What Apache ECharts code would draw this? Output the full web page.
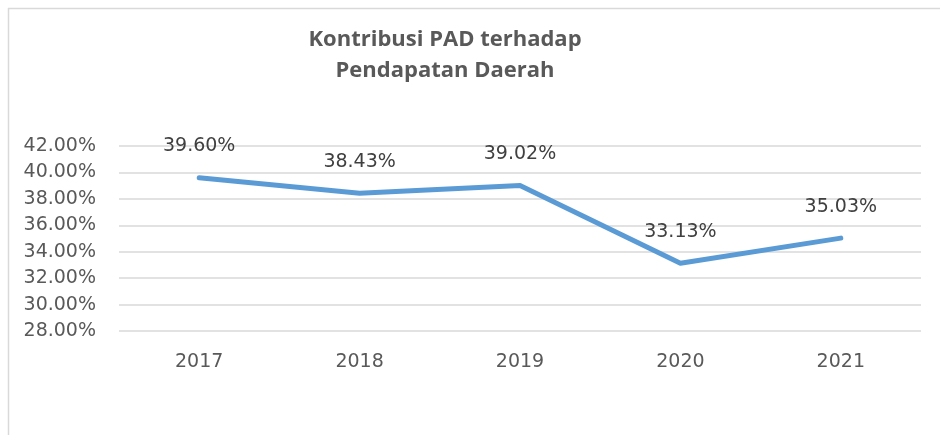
<!DOCTYPE html>
<html>
<head>
<meta charset="utf-8">
<script src="https://cdn.jsdelivr.net/npm/echarts@6/dist/echarts.min.js"></script>
<style>
html,body{margin:0;padding:0;background:#fff;overflow:hidden;}
#chart{width:940px;height:435px;}
</style>
</head>
<body>
<div id="chart"></div>
<script>
var titleLines = ['Kontribusi PAD terhadap', 'Pendapatan Daerah'];
var categories = ['2017', '2018', '2019', '2020', '2021'];
var values = [39.60, 38.43, 39.02, 33.13, 35.03];
var yMin = 28, yMax = 42, yStep = 2;

var chart = echarts.init(document.getElementById('chart'), null, {renderer: 'canvas'});
var font = 'DejaVu Sans';
chart.setOption({
  animation: false,
  backgroundColor: '#ffffff',
  title: {
    text: titleLines.join('\n'),
    left: 440,
    top: 19,
    textAlign: 'center',
    textStyle: {fontFamily: 'Open Sans', fontWeight: 'bold', fontSize: 22, color: '#595959', lineHeight: 31}
  },
  graphic: [{
    type: 'polyline',
    shape: {points: [[8.5, 440], [8.5, 8.5], [945, 8.5]]},
    style: {fill: 'none', stroke: '#d9d9d9', lineWidth: 1.5},
    silent: true
  }],
  grid: {left: 119, right: 19, top: 146, bottom: 104},
  xAxis: {
    type: 'category',
    data: categories,
    boundaryGap: true,
    axisLine: {show: false},
    axisTick: {show: false},
    axisLabel: {fontFamily: font, fontSize: 19, color: '#595959', margin: 22}
  },
  yAxis: {
    type: 'value',
    min: yMin, max: yMax, interval: yStep,
    axisLine: {show: false},
    axisTick: {show: false},
    splitLine: {lineStyle: {color: '#d9d9d9', width: 1.5}},
    axisLabel: {
      fontFamily: font, fontSize: 19, color: '#595959', margin: 23,
      formatter: function (v) { return v.toFixed(2) + '%'; }
    }
  },
  series: [{
    type: 'line',
    data: values,
    symbol: 'circle',
    symbolSize: 2,
    showSymbol: true,
    itemStyle: {color: 'rgba(91,155,213,0)'},
    lineStyle: {color: '#5b9bd5', width: 5, cap: 'round', join: 'round'},
    label: {
      show: true, position: 'top', distance: 21,
      fontFamily: font, fontSize: 19, color: '#404040',
      formatter: function (p) { return p.value.toFixed(2) + '%'; }
    }
  }]
});
</script>
</body>
</html>
